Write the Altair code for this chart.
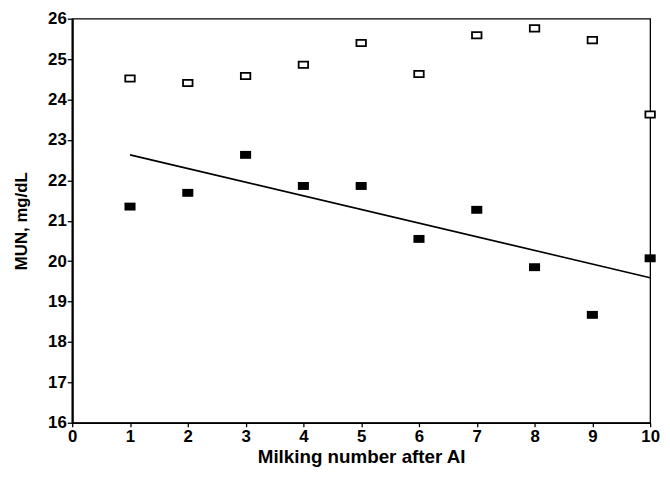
import altair as alt
import pandas as pd

# ---- data ----
milking = [1, 2, 3, 4, 5, 6, 7, 8, 9, 10]
mun_open = [24.52, 24.41, 24.58, 24.86, 25.40, 24.63, 25.59, 25.76, 25.47, 23.63]
mun_filled = [21.35, 21.69, 22.63, 21.86, 21.86, 20.55, 21.27, 19.85, 18.67, 20.07]
trend_x = [1, 10]
trend_y = [22.63, 19.59]
x_ticks = [0, 1, 2, 3, 4, 5, 6, 7, 8, 9, 10]
y_ticks = [16, 17, 18, 19, 20, 21, 22, 23, 24, 25, 26]

df_open = pd.DataFrame({"milking": milking, "mun": mun_open})
df_filled = pd.DataFrame({"milking": milking, "mun": mun_filled})
df_trend = pd.DataFrame({"milking": trend_x, "mun": trend_y})

FONT = "Liberation Sans"

x_scale = alt.Scale(domain=[0, 10], nice=False, zero=False)
y_scale = alt.Scale(domain=[16, 26], nice=False, zero=False)

x_axis = alt.Axis(
    values=x_ticks, title="Milking number after AI", grid=False,
    labelFont=FONT, labelFontWeight="bold", labelFontSize=17, labelColor="black",
    labelPadding=2, tickSize=4, tickColor="black", tickWidth=1.3,
    domainColor="black", domainWidth=1.6,
    titleFont=FONT, titleFontWeight="bold", titleFontSize=19, titleColor="black",
    titlePadding=3, labelFlush=False,
)
y_axis = alt.Axis(
    values=y_ticks, title="MUN, mg/dL", grid=False,
    labelFont=FONT, labelFontWeight="bold", labelFontSize=17, labelColor="black",
    labelPadding=1, tickSize=5, tickColor="black", tickWidth=1.3,
    domainColor="black", domainWidth=2.2,
    titleFont=FONT, titleFontWeight="bold", titleFontSize=17, titleColor="black",
    titlePadding=17, labelFlush=False,
)

x_enc = alt.X("milking:Q", scale=x_scale, axis=x_axis)
y_enc = alt.Y("mun:Q", scale=y_scale, axis=y_axis)

open_pts = alt.Chart(df_open).mark_point(
    shape="M-1.2,-0.8H1.2V0.8H-1.2Z", size=64, filled=True,
    fill="white", stroke="black", strokeWidth=1.8, opacity=1,
).encode(x=x_enc, y=y_enc)

filled_pts = alt.Chart(df_filled).mark_point(
    shape="M-1.4,-1H1.4V1H-1.4Z", size=64, filled=True,
    fill="black", stroke="black", strokeWidth=0, opacity=1,
).encode(x=x_enc, y=y_enc)

trend = alt.Chart(df_trend).mark_line(color="black", strokeWidth=1.6).encode(
    x=x_enc, y=y_enc
)

chart = alt.layer(trend, open_pts, filled_pts).properties(
    width=585, height=409,
    autosize=alt.AutoSizeParams(type="none"),
    padding={"left": 65, "top": 8, "right": 12, "bottom": 45},
    background="white",
).configure_view(stroke="black", strokeWidth=1.3)

chart.save("out.html", embed_options={"renderer": "svg", "actions": False})
